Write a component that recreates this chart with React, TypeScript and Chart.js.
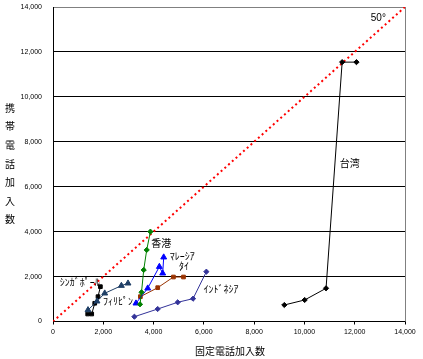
import React, { useEffect, useRef } from "react";
import { Chart, registerables } from "chart.js";

Chart.register(...registerables);

// ---- data (thousands of subscribers) ----
const taiwanX = [9200, 10010, 10860, 11500, 12070];
const taiwanY = [735, 958, 1478, 11546, 11546];

const hongkongX = [3874, 3727, 3608, 3520, 3460];
const hongkongY = [4000, 3185, 2294, 1300, 766];

const malaysiaX = [3300, 3767, 4230, 4363, 4403];
const malaysiaY = [811, 1479, 2440, 2147, 2860];

const thailandX = [3475, 4165, 4790, 5190];
const thailandY = [1105, 1505, 1980, 1980];

const indonesiaX = [3237, 4165, 4960, 5570, 6100];
const indonesiaY = [213, 557, 855, 1016, 2218];

const philippinesX = [2983, 2720, 2057, 1750, 1392];
const philippinesY = [1700, 1595, 1256, 900, 512];

const singaporeX = [1885, 1790, 1660, 1540, 1380];
const singaporeY = [1550, 1105, 811, 334, 334];

const diagonalX = [0, 14000];
const diagonalY = [0, 14000];

const axisTicks = [0, 2000, 4000, 6000, 8000, 10000, 12000, 14000];

// annotation labels (text, x value, y value)
const labelTexts = ["台湾", "香港", "ﾏﾚｰｼｱ", "ﾀｲ", "ｲﾝﾄﾞﾈｼｱ", "ﾌｨﾘﾋﾟﾝ", "ｼﾝｶﾞﾎﾟｰﾙ", "50°"];
const labelX = [11400, 3910, 4640, 5010, 5990, 1990, 267, 12640];
const labelY = [7060, 3480, 2886, 2472, 1448, 882, 1728, 13520];

const xTitle = "固定電話加入数";
const yTitle = "携帯電話加入数";

const pts = (xs: number[], ys: number[]) => xs.map((x, i) => ({ x, y: ys[i] }));

const JP = "'Noto Sans CJK JP', sans-serif";

const overlayPlugin = {
  id: "overlay",
  beforeDatasetsDraw(chart: any) {
    const { ctx, chartArea } = chart;
    ctx.save();
    ctx.strokeStyle = "#808080";
    ctx.lineWidth = 1;
    const rx = Math.round(chartArea.right) + 0.5;
    ctx.beginPath();
    ctx.moveTo(rx, chartArea.top);
    ctx.lineTo(rx, chartArea.bottom);
    ctx.stroke();
    ctx.restore();
  },
  afterDatasetsDraw(chart: any) {
    const { ctx, scales } = chart;
    const xs = scales.x;
    const ys = scales.y;
    ctx.save();
    ctx.fillStyle = "#000";
    ctx.textBaseline = "middle";
    ctx.textAlign = "left";
    labelTexts.forEach((t, i) => {
      ctx.font = t === "50°" ? "10px 'Liberation Sans', sans-serif" : `10px ${JP}`;
      ctx.fillText(t, xs.getPixelForValue(labelX[i]), ys.getPixelForValue(labelY[i]));
    });
    // axis titles
    ctx.font = `10px ${JP}`;
    ctx.textAlign = "center";
    ctx.fillText(xTitle, (xs.left + xs.right) / 2 + 1, 351);
    const chars = Array.from(yTitle);
    chars.forEach((c, i) => {
      ctx.fillText(c, 10, 108 + i * 18.6);
    });
    ctx.restore();
  },
};

export default function App() {
  const ref = useRef<HTMLCanvasElement | null>(null);

  useEffect(() => {
    if (!ref.current) return;
    const mk = (
      data: { x: number; y: number }[],
      color: string,
      style: any,
      radius: number
    ) => ({
      type: "line" as const,
      data,
      borderColor: color,
      backgroundColor: color,
      pointBackgroundColor: color,
      pointBorderColor: color,
      borderWidth: 1,
      pointStyle: style,
      pointRadius: radius,
      pointBorderWidth: 1,
      tension: 0,
      showLine: true,
    });

    const chart = new Chart(ref.current, {
      type: "line",
      data: {
        datasets: [
          mk(pts(taiwanX, taiwanY), "#000000", "rectRot", 2.6),
          mk(pts(hongkongX, hongkongY), "#008000", "rectRot", 2.6),
          mk(pts(malaysiaX, malaysiaY), "#0000FF", "triangle", 3.4),
          mk(pts(thailandX, thailandY), "#993300", "rect", 2.6),
          mk(pts(indonesiaX, indonesiaY), "#333399", "rectRot", 2.6),
          mk(pts(philippinesX, philippinesY), "#1F3F66", "triangle", 3.4),
          mk(pts(singaporeX, singaporeY), "#000000", "rect", 2.6),
          {
            type: "line" as const,
            data: pts(diagonalX, diagonalY),
            borderColor: "#FF0000",
            borderWidth: 2,
            borderDash: [2, 3],
            pointRadius: 0,
            tension: 0,
          },
        ],
      },
      options: {
        responsive: false,
        animation: false,
        parsing: false,
        layout: { autoPadding: false, padding: { top: 7, right: 18, left: 0, bottom: 0 } },
        plugins: {
          legend: { display: false },
          tooltip: { enabled: false },
        },
        scales: {
          x: {
            type: "linear",
            min: 0,
            max: 14000,
            afterBuildTicks: (s: any) => {
              s.ticks = axisTicks.map((v) => ({ value: v }));
            },
            afterFit: (s: any) => {
              s.height = 37.5;
              s.paddingLeft = 0;
              s.paddingRight = 0;
            },
            ticks: {
              font: { family: "'Liberation Sans', sans-serif", size: 7 },
              color: "#000",
              padding: 3,
              maxRotation: 0,
              callback: (v: any) => Number(v).toLocaleString("en-US"),
            },
            grid: {
              drawOnChartArea: false,
              drawTicks: true,
              tickLength: 3,
              color: "#000",
            },
            border: { color: "#000", width: 1 },
          },
          y: {
            type: "linear",
            min: 0,
            max: 14000,
            afterBuildTicks: (s: any) => {
              s.ticks = axisTicks.map((v) => ({ value: v }));
            },
            afterFit: (s: any) => {
              s.width = 53;
              s.paddingTop = 0;
              s.paddingBottom = 0;
            },
            ticks: {
              font: { family: "'Liberation Sans', sans-serif", size: 7 },
              color: "#000",
              padding: 11,
              callback: (v: any) => Number(v).toLocaleString("en-US"),
            },
            grid: {
              drawOnChartArea: true,
              drawTicks: false,
              color: (c: any) => (c.tick && c.tick.value === 14000 ? "#808080" : "#000"),
              lineWidth: 1,
            },
            border: { color: "#000", width: 1 },
          },
        },
      },
      plugins: [overlayPlugin],
    } as any);

    return () => chart.destroy();
  }, []);

  return (
    <div style={{ position: "absolute", left: 0, top: 0, width: 423, height: 359, background: "#fff" }}>
      <canvas ref={ref} width={423} height={359} />
    </div>
  );
}
